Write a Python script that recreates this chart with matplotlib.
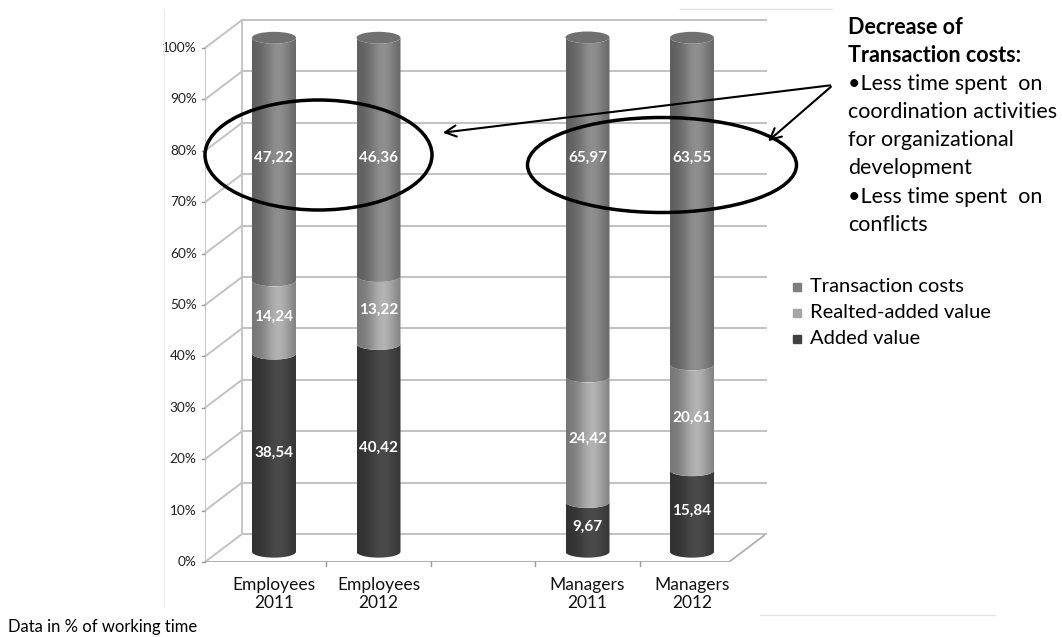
import numpy as np
import matplotlib.pyplot as plt
from matplotlib.path import Path
from matplotlib.patches import PathPatch, Ellipse

# data (percent of working time)
categories = ['Employees\n2011', 'Employees\n2012', 'Managers\n2011', 'Managers\n2012']
slots = [0, 1, 3, 4]  # slot 2 is an empty column in the original chart
added_value = [38.54, 40.42, 9.67, 15.84]
related_added = [14.24, 13.22, 24.42, 20.61]
transaction = [47.22, 46.36, 65.97, 63.55]
series_names = ['Transaction costs', 'Realted-added value', 'Added value']
yticks = [0, 10, 20, 30, 40, 50, 60, 70, 80, 90, 100]

plt.rcParams['font.family'] = ['Lato', 'DejaVu Sans']

W, H = 1062, 637
fig = plt.figure(figsize=(W / 100, H / 100), dpi=100)

# pixel geometry of the fake 3D chart
px_unit_y = 5.14      # pixels per percent
px_unit_x = 104.5     # pixels per category slot
x0_px, y0_px = 274, 562
ax_left, ax_right, ax_top = 205, 765, 20
depth_x = 37 / px_unit_x
depth_y = 28 / px_unit_y

ax = fig.add_axes([ax_left / W, (H - y0_px) / H, (ax_right - ax_left) / W, (y0_px - ax_top) / H])
ax.set_xlim((ax_left - x0_px) / px_unit_x, (ax_right - x0_px) / px_unit_x)
ax.set_ylim(0, (y0_px - ax_top) / px_unit_y)
ax.axis('off')

grid_c = '#c2c2c2'
xl = ax.get_xlim()[0]
floor_right = (729 - x0_px) / px_unit_x
for v in yticks:
    # slanted side wall line + back wall line
    ax.plot([xl, xl + depth_x], [v, v + depth_y], color=grid_c, lw=1.4, clip_on=False, zorder=1)
    ax.plot([xl + depth_x, floor_right + depth_x], [v + depth_y, v + depth_y], color=grid_c, lw=1.4,
            clip_on=False, zorder=1)
    ax.plot([xl - 0.03, xl], [v, v], color='#999999', lw=1, clip_on=False, zorder=1)
    ax.text(xl - 0.08, v, f'{v}%', ha='right', va='center', fontsize=9.8, color='#222222')
# walls / floor edges
ax.plot([xl, xl], [0, 100], color=grid_c, lw=1.3, zorder=1)
ax.plot([xl + depth_x, xl + depth_x], [depth_y, 100 + depth_y], color=grid_c, lw=1.3, zorder=1)
ax.plot([xl, floor_right], [0, 0], color='#b0b0b0', lw=1.5, zorder=1)
ax.plot([floor_right, floor_right + depth_x], [0, depth_y], color='#b0b0b0', lw=1.3, zorder=1)
for s in [0.5, 1.5, 2.5, 3.5]:
    ax.plot([s, s], [0, -0.8], color='#999999', lw=1, clip_on=False)

# cylinders
bar_w = 44 / px_unit_x
base = 2.0
ell = 1.15
peak_cols = {'Transaction costs': (0.56, 0.56, 0.56),
             'Realted-added value': (0.70, 0.70, 0.70),
             'Added value': (0.29, 0.29, 0.29)}
t = np.linspace(0, 1, 200)
shade = 0.66 + 0.34 * np.exp(-((t - 0.6) / 0.32) ** 2)


def segment(c, y0, y1, color):
    th_bot = np.linspace(np.pi, 2 * np.pi, 40)
    th_top = th_bot[::-1]
    xs = np.concatenate([c + bar_w / 2 * np.cos(th_bot), c + bar_w / 2 * np.cos(th_top)])
    ys = np.concatenate([y0 + ell * np.sin(th_bot), y1 + ell * np.sin(th_top)])
    verts = np.column_stack([xs, ys])
    patch = PathPatch(Path(np.vstack([verts, verts[:1]])), facecolor='none', edgecolor='none')
    ax.add_patch(patch)
    img = np.clip(np.array(color)[None, None, :] * shade[None, :, None], 0, 1)
    im = ax.imshow(img, extent=(c - bar_w / 2, c + bar_w / 2, y0 - ell, y1 + ell),
                   aspect='auto', zorder=3, interpolation='bilinear')
    im.set_clip_path(patch)


TOP_LABEL_Y = 78.6
for i, c in enumerate(slots):
    parts = [('Added value', added_value[i]), ('Realted-added value', related_added[i]),
             ('Transaction costs', transaction[i])]
    y = base
    for name, val in parts:
        segment(c, y, y + val, peak_cols[name])
        ly = (2 * y + val) / 2 if name != 'Transaction costs' else TOP_LABEL_Y
        ax.text(c, ly, f'{val:.2f}'.replace('.', ','), ha='center', va='center', color='white',
                fontsize=11, fontweight='bold', zorder=6)
        y += val
    ax.add_patch(Ellipse((c, y), bar_w, 2 * ell, facecolor='#707070', edgecolor='none', zorder=4))
    ax.text(c, -3.0, categories[i], ha='center', va='top', fontsize=12.5, color='#111111',
            linespacing=1.15)

# overlay in pixel coordinates for notes and legend
ov = fig.add_axes([0, 0, 1, 1])
ov.set_xlim(0, W)
ov.set_ylim(H, 0)
ov.axis('off')
ov.patch.set_alpha(0)

ov.add_patch(Ellipse((318.5, 155), 227, 110, fill=False, lw=2.5, edgecolor='black'))
ov.add_patch(Ellipse((662, 165), 269, 95, fill=False, lw=2.5, edgecolor='black'))
for end in [(440, 133), (766, 143)]:
    ov.annotate('', xy=end, xytext=(833, 85),
                arrowprops=dict(arrowstyle='->', lw=1.5, color='black', mutation_scale=20))

note = [('Decrease of', 'bold'), ('Transaction costs:', 'bold'), ('\u2022Less time spent  on', 'normal'),
        ('coordination activities', 'normal'), ('for organizational', 'normal'), ('development', 'normal'),
        ('\u2022Less time spent  on', 'normal'), ('conflicts', 'normal')]
for k, (line, wgt) in enumerate(note):
    ov.text(848, 27 + 28.3 * k, line, ha='left', va='center', fontsize=15.5, fontweight=wgt, color='black')

leg_cols = ['#7f7f7f', '#a6a6a6', '#404040']
for k, (name, col) in enumerate(zip(series_names, leg_cols)):
    yy = 287 + 26 * k
    ov.plot(797, yy, marker='s', ms=5.5, color=col, linestyle='none')
    ov.text(810, yy, name, ha='left', va='center', fontsize=14.5, color='black')

ov.text(8, 627, 'Data in % of working time', ha='left', va='center', fontsize=12, color='black')

# faint frame lines from the pasted picture
ov.plot([164, 164], [10, 607], color='#ececec', lw=1)
ov.plot([760, 995], [615, 615], color='#e4e4e4', lw=1)
ov.plot([680, 832], [9, 9], color='#e4e4e4', lw=1)

fig.savefig('out.png', dpi=100)
